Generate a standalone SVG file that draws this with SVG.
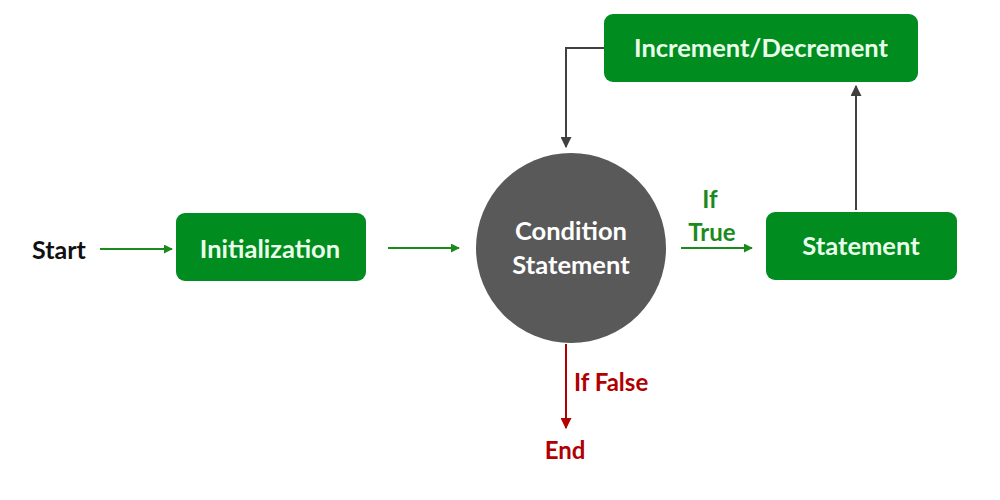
<svg xmlns="http://www.w3.org/2000/svg" width="1000" height="500" viewBox="0 0 1000 500">
<style>
text{font-family:Lato,"Open Sans","Liberation Sans",sans-serif;font-weight:bold;}
.box{fill:#008c1e;}
.bt{fill:#eaffea;font-size:25.5px;text-anchor:middle;}
.g{stroke:#1a8a1a;stroke-width:2;fill:none;}
.d{stroke:#404040;stroke-width:2;fill:none;}
.r{stroke:#b00000;stroke-width:2;fill:none;}
</style>
<defs>
<marker id="ag" viewBox="0 0 10 10" refX="9" refY="5" markerWidth="9" markerHeight="9" orient="auto" markerUnits="userSpaceOnUse"><path d="M0,0L10,5L0,10z" fill="#1a8a1a"/></marker>
<marker id="ad" viewBox="0 0 10 10" refX="9" refY="5" markerWidth="11" markerHeight="11" orient="auto" markerUnits="userSpaceOnUse"><path d="M0,0L10,5L0,10z" fill="#404040"/></marker>
<marker id="ar" viewBox="0 0 10 10" refX="9" refY="5" markerWidth="11" markerHeight="11" orient="auto" markerUnits="userSpaceOnUse"><path d="M0,0L10,5L0,10z" fill="#b00000"/></marker>
</defs>
<rect width="1000" height="500" fill="#fff"/>
<g id="connectors">
<path class="g" d="M100,249H172" marker-end="url(#ag)"/>
<path class="g" d="M388,248H459" marker-end="url(#ag)"/>
<path class="g" d="M681,248H752" marker-end="url(#ag)"/>
<path class="d" d="M856,210V86" marker-end="url(#ad)"/>
<path class="d" d="M604,48H566V147" marker-end="url(#ad)"/>
<path class="r" d="M566,344V428" marker-end="url(#ar)"/>
</g>
<g id="start"><text x="32" y="259" font-size="25" fill="#111">Start</text></g>
<g id="init"><rect class="box" x="176" y="213" width="190" height="68" rx="9"/><text class="bt" x="270" y="258">Initialization</text></g>
<g id="cond"><circle cx="571" cy="248" r="95" fill="#595959"/><text class="bt" x="571" y="240" style="fill:#fff">Condition</text><text class="bt" x="571" y="274" style="fill:#fff">Statement</text></g>
<g id="iftrue"><text x="710" y="208" font-size="24" fill="#1a8a1a" text-anchor="middle">If</text><text x="712" y="241" font-size="24" fill="#1a8a1a" text-anchor="middle">True</text></g>
<g id="stmt"><rect class="box" x="766" y="212" width="191" height="68" rx="9"/><text class="bt" x="861" y="255">Statement</text></g>
<g id="incdec"><rect class="box" x="604" y="14" width="314" height="68" rx="9"/><text class="bt" x="761" y="57">Increment/Decrement</text></g>
<g id="iffalse"><text x="574" y="391" font-size="24" fill="#b00000">If False</text></g>
<g id="end"><text x="565" y="459" font-size="24" fill="#b00000" text-anchor="middle">End</text></g>
</svg>
